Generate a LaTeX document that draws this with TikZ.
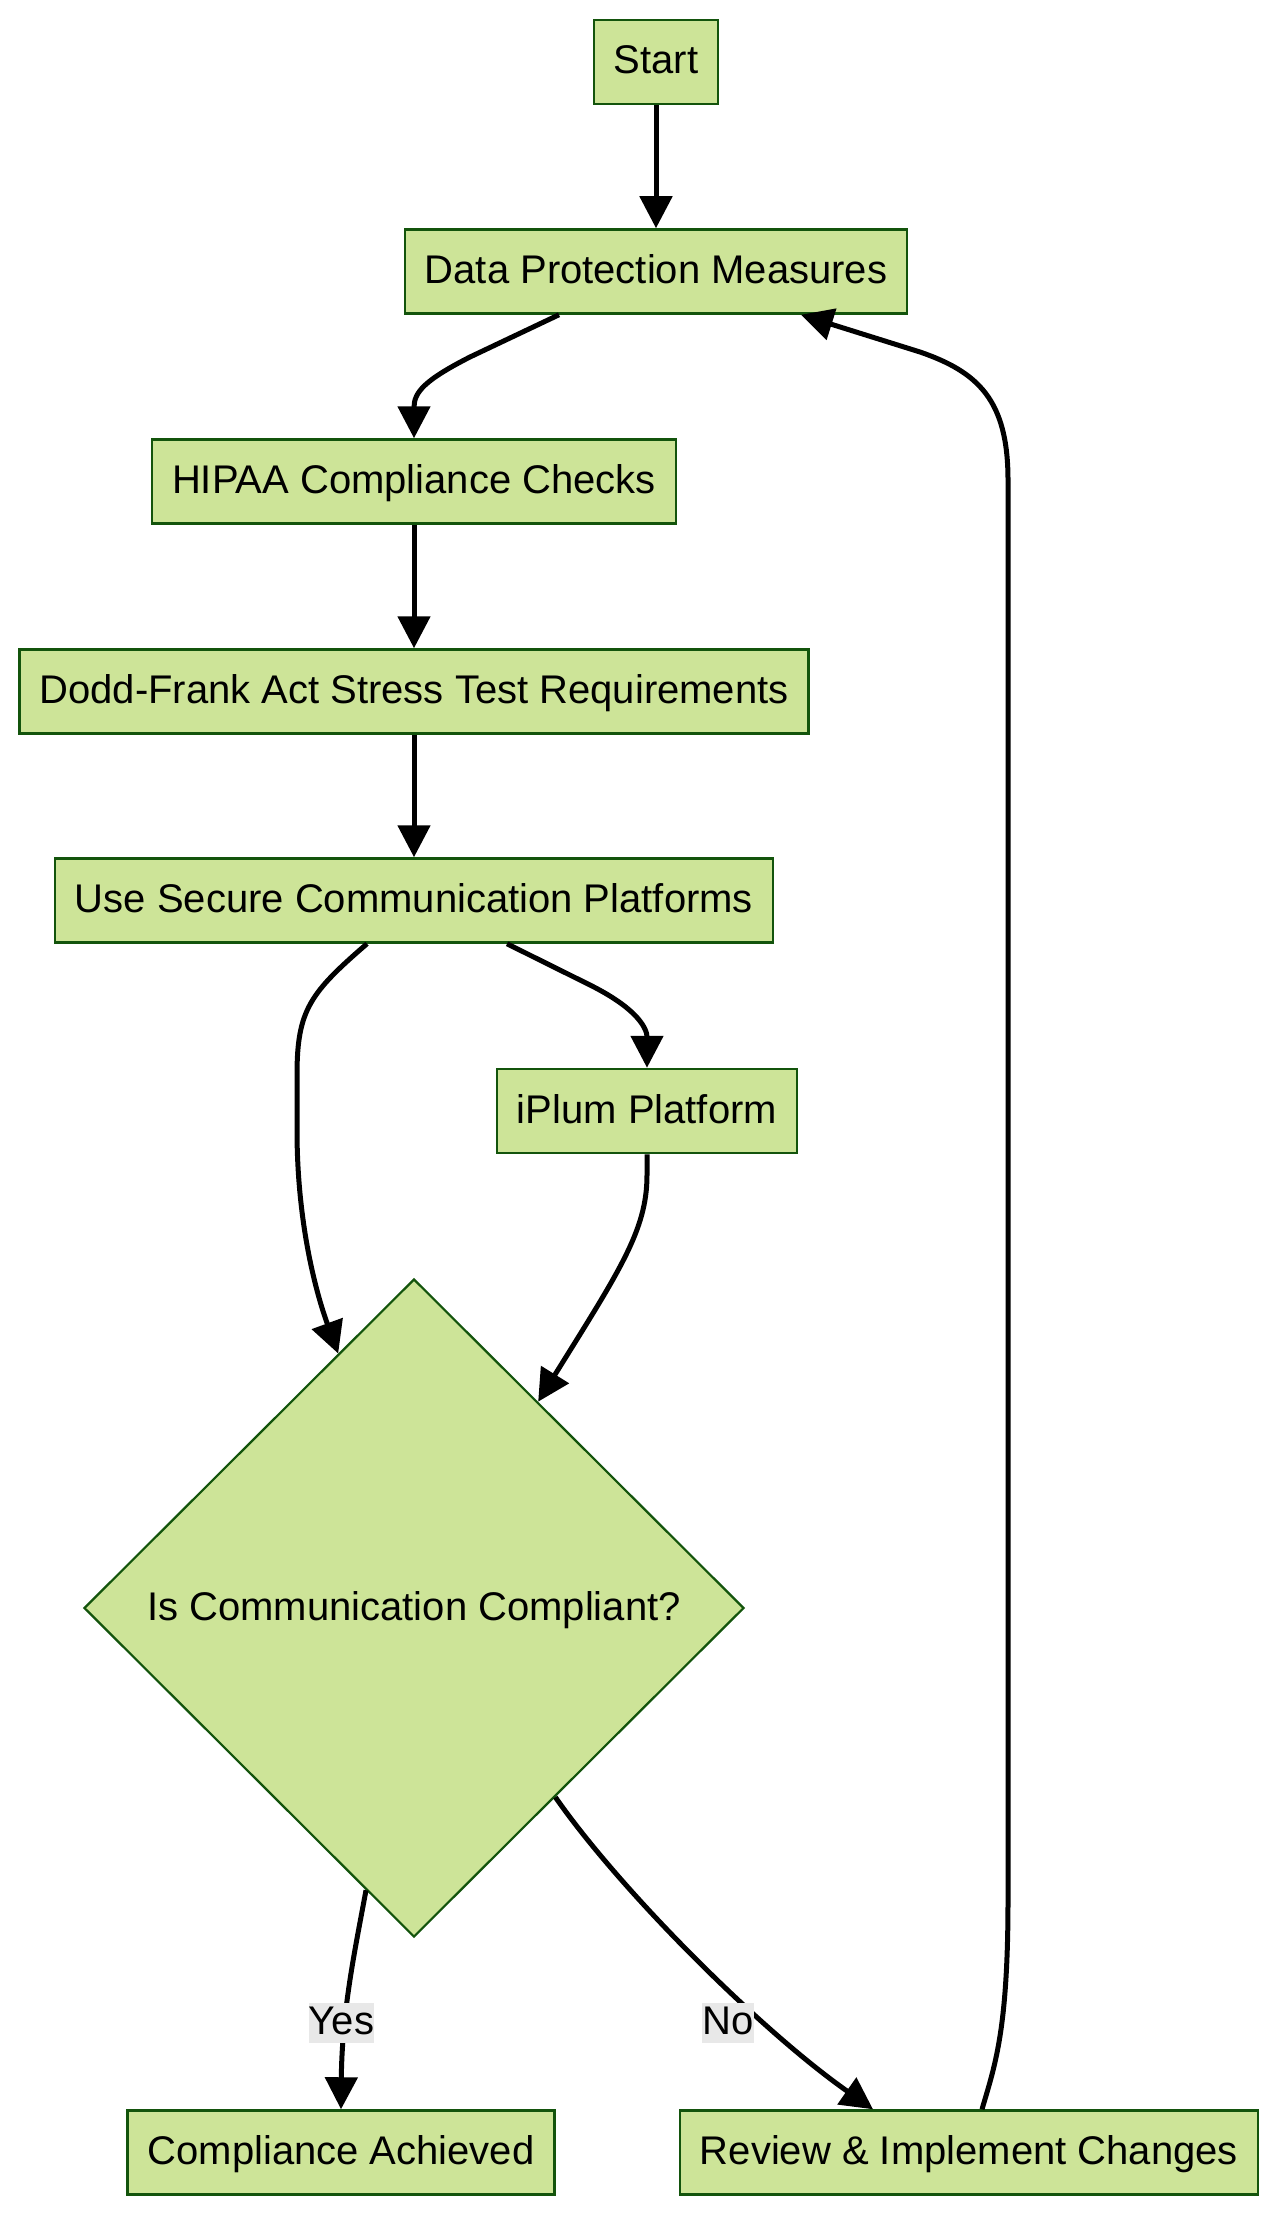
\documentclass[tikz,border=0pt]{standalone}
\usepackage{fontspec}
\setmainfont{Liberation Sans}
\usetikzlibrary{shapes.geometric,arrows.meta,calc}
\definecolor{nodefill}{HTML}{CDE498}
\definecolor{nodeline}{HTML}{13540C}
\definecolor{lblbg}{HTML}{E8E8E8}
\begin{document}
\begin{tikzpicture}[x=1pt,y=-1pt,
  box/.style={draw=nodeline, fill=nodefill, line width=2.5pt, minimum height=84pt,
    inner xsep=20pt, inner ysep=0pt, font=\fontsize{40}{48}\selectfont,
    text height=31pt, text depth=7pt},
  decision/.style={diamond, draw=nodeline, fill=nodefill, line width=2.2pt,
    minimum width=660pt, minimum height=658pt, inner sep=0pt,
    font=\fontsize{40}{48}\selectfont, text height=31pt, text depth=7pt},
  flow/.style={line width=5pt, -{Triangle[length=32pt,width=32pt]}},
  lbl/.style={fill=lblbg, inner sep=0pt, font=\fontsize{40}{48}\selectfont,
    text height=31pt, text depth=9pt}]
\useasboundingbox (0,0) rectangle (1280,2215);

\node[box] (start) at (656,62) {Start};
\node[box] (dpm) at (656,271.5) {Data Protection Measures};
\node[box] (hipaa) at (414,481.5) {HIPAA Compliance Checks};
\node[box] (dodd) at (414,691.5) {Dodd-Frank Act Stress Test Requirements};
\node[box] (use) at (414,900.5) {Use Secure Communication Platforms};
\node[box] (iplum) at (647,1111) {iPlum Platform};
\node[decision] (dec) at (414,1608) {Is Communication Compliant?};
\node[box] (ok) at (341,2152.5) {Compliance Achieved};
\node[box] (rev) at (969,2152.5) {Review \& Implement Changes};

\coordinate (in1) at ($(dec.north)!0.229!(dec.west)$);
\coordinate (in2) at ($(dec.north)!0.375!(dec.east)$);
\coordinate (out1) at ($(dec.south)!0.145!(dec.west)$);
\coordinate (out2) at ($(dec.south)!0.427!(dec.east)$);

\draw[flow] (start) -- (dpm);
\draw[flow] ([xshift=-97pt]dpm.south) -- (470,357) .. controls (425,380) and (414,392) .. (hipaa.north);
\draw[flow] (hipaa) -- (dodd);
\draw[flow] (dodd) -- (use);
\draw[flow] ([xshift=93pt]use.south) -- (590,985) .. controls (640,1010) and (647,1030) .. (iplum.north);
\draw[flow] ([xshift=-47pt]use.south) .. controls (310,993) and (297,1010) .. (297,1075)
  -- (297,1130) .. controls (297,1220) and (315,1290) .. (in1);
\draw[flow] (iplum.south) -- (647,1175) .. controls (647,1230) and (620,1270) .. (in2);
\draw[flow] (out1) .. controls (355,1950) and (342,2010) .. (ok.north);
\draw[flow] (out2) .. controls (620,1890) and (760,2030) .. ([xshift=-96pt]rev.north);
\draw[flow] ([xshift=13pt]rev.north) .. controls (995,2065) and (1008,2030) .. (1008,1900)
  -- (1008,480) .. controls (1008,400) and (978,372) .. (920,352) -- ([xshift=145pt]dpm.south);

\node[lbl] (yes) at (341.5,2023) {Yes};
\node[lbl] (no) at (728,2023) {No};
\end{tikzpicture}
\end{document}
